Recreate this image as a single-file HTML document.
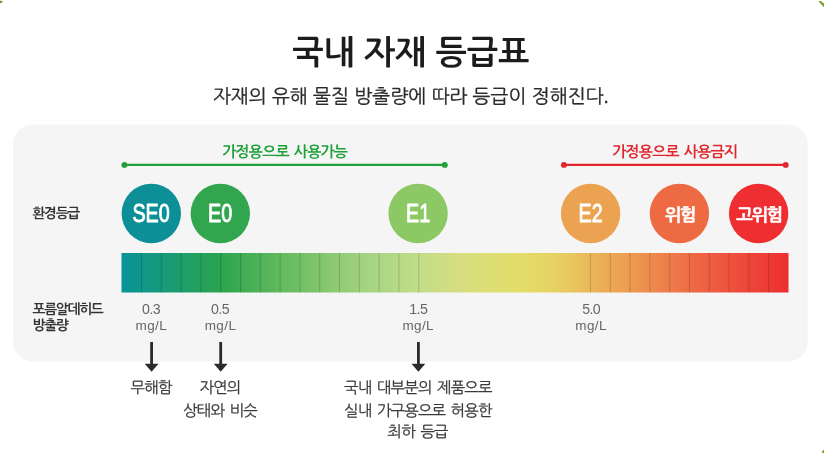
<!DOCTYPE html>
<html lang="ko">
<head>
<meta charset="utf-8">
<title>국내 자재 등급표</title>
<style>
html,body{margin:0;padding:0;background:#fff;}
body{width:824px;height:453px;overflow:hidden;position:relative;}
svg{display:block;position:absolute;left:0;top:0;}
text{font-family:"Liberation Sans","NanumGothic","Noto Sans CJK KR",sans-serif;}
.t{font-weight:700;font-size:33.2px;fill:#1c1c1c;}
.s{font-size:19.1px;fill:#2a2a2a;stroke:#2a2a2a;stroke-width:0.3px;}
.lab{font-size:13.8px;font-weight:700;fill:#333;letter-spacing:-1.3px;}
.g{font-size:15px;font-weight:700;fill:#20a03a;letter-spacing:-0.75px;word-spacing:1.5px;}
.r{font-size:15px;font-weight:700;fill:#e1272d;letter-spacing:-0.75px;word-spacing:1.5px;}
.c{font-size:26.7px;font-weight:400;fill:#fff;stroke:#fff;stroke-width:0.9px;stroke-linejoin:round;}
.k{font-size:17.5px;font-weight:700;fill:#fff;letter-spacing:-1.2px;stroke:#fff;stroke-width:0.45px;}
.m{font-size:14.2px;fill:#666;letter-spacing:-0.6px;}
.u{font-size:13.5px;fill:#666;letter-spacing:0.4px;}
.d{font-size:15.4px;fill:#3a3a3a;letter-spacing:-0.8px;word-spacing:2px;stroke:#3a3a3a;stroke-width:0.25px;}
</style>
</head>
<body>
<svg width="824" height="453" viewBox="0 0 824 453">
<defs>
<linearGradient id="bar" gradientUnits="userSpaceOnUse" x1="121.500" y1="0" x2="788.500" y2="0">
<stop offset="0" stop-color="#089399"/>
<stop offset="0.148" stop-color="#2ba44e"/>
<stop offset="0.245" stop-color="#66bb5e"/>
<stop offset="0.372" stop-color="#a6d482"/>
<stop offset="0.447" stop-color="#c2dd88"/>
<stop offset="0.506" stop-color="#d6de80"/>
<stop offset="0.597" stop-color="#e3dd6a"/>
<stop offset="0.640" stop-color="#e6d465"/>
<stop offset="0.672" stop-color="#e8c860"/>
<stop offset="0.717" stop-color="#ebae56"/>
<stop offset="0.753" stop-color="#eda052"/>
<stop offset="0.867" stop-color="#ee6444"/>
<stop offset="1" stop-color="#ee2e30"/>
</linearGradient>
</defs>
<rect x="0" y="0" width="824" height="453" fill="#fff"/>
<g>
<path d="M0 0.800L2.300 1L2.700 1.800L1 2.900L0 3.200z" fill="#668e3e"/>
<path d="M818.400 0.900L820.800 1L824 3.600L824 7.200L822.300 5.400z" fill="#779d36"/>
<path d="M824 449.400L822.600 450.800L821.700 453L824 453z" fill="#7aa824"/>
</g>
<rect x="13" y="124.600" width="794.700" height="237" rx="19.500" ry="19.500" fill="#f5f5f5"/>

<text class="t" x="410.700" y="64.300" text-anchor="middle">국내 자재 등급표</text>
<text class="s" x="410.800" y="103.400" text-anchor="middle">자재의 유해 물질 방출량에 따라 등급이 정해진다.</text>

<text class="g" x="284.700" y="157.300" text-anchor="middle">가정용으로 사용가능</text>
<line x1="124.400" y1="164.900" x2="444.800" y2="164.900" stroke="#20a03a" stroke-width="2.200"/>
<circle cx="124.400" cy="164.900" r="2.950" fill="#20a03a"/>
<circle cx="444.800" cy="164.900" r="2.950" fill="#20a03a"/>

<text class="r" x="674.700" y="157.300" text-anchor="middle">가정용으로 사용금지</text>
<line x1="563.900" y1="164.900" x2="785.700" y2="164.900" stroke="#e1272d" stroke-width="2.200"/>
<circle cx="563.900" cy="164.900" r="2.950" fill="#e1272d"/>
<circle cx="785.700" cy="164.900" r="2.950" fill="#e1272d"/>

<text class="lab" x="32.300" y="218.300">환경등급</text>

<circle cx="151.300" cy="213.500" r="29.700" fill="#0d8f98"/>
<circle cx="220.300" cy="213.500" r="29.700" fill="#32a64e"/>
<circle cx="418.100" cy="213.500" r="29.700" fill="#8cc863"/>
<circle cx="590.600" cy="213.500" r="29.700" fill="#eba352"/>
<circle cx="679.400" cy="213.500" r="29.700" fill="#ee6a42"/>
<circle cx="758.600" cy="213.500" r="29.700" fill="#ee2e30"/>
<text class="c" transform="translate(151.100 221.900) scale(0.740 1)" text-anchor="middle">SE0</text>
<text class="c" transform="translate(220.100 221.900) scale(0.740 1)" text-anchor="middle">E0</text>
<text class="c" transform="translate(418.100 221.900) scale(0.740 1)" text-anchor="middle">E1</text>
<text class="c" transform="translate(590.600 221.900) scale(0.740 1)" text-anchor="middle">E2</text>
<text class="k" x="680" y="220.500" text-anchor="middle">위험</text>
<text class="k" x="759.200" y="220.500" text-anchor="middle">고위험</text>

<rect x="121.500" y="253" width="667" height="39.500" fill="url(#bar)"/>
<g stroke="#000" stroke-opacity="0.24" stroke-width="0.7">
<path d="M141.500 253v39.500M161.300 253v39.500M181.100 253v39.500M200.900 253v39.500M220.700 253v39.500M240.500 253v39.500M260.300 253v39.500M280.100 253v39.500M299.900 253v39.500M319.700 253v39.500M339.500 253v39.500M359.300 253v39.500M379.100 253v39.500M398.900 253v39.500M418.700 253v39.500"/>
<path d="M590.500 253v39.500M610.300 253v39.500M630.100 253v39.500M649.900 253v39.500M669.700 253v39.500M689.500 253v39.500M709.300 253v39.500M729.100 253v39.500M748.900 253v39.500M768.700 253v39.500"/>
</g>

<text class="lab" x="32.500" y="313.800">포름알데히드</text>
<text class="lab" x="32.500" y="329.900">방출량</text>

<text class="m" x="151" y="313.800" text-anchor="middle">0.3</text>
<text class="u" x="151.300" y="329.800" text-anchor="middle">mg/L</text>
<text class="m" x="220" y="313.800" text-anchor="middle">0.5</text>
<text class="u" x="220.500" y="329.800" text-anchor="middle">mg/L</text>
<text class="m" x="418.300" y="313.800" text-anchor="middle">1.5</text>
<text class="u" x="418.200" y="329.800" text-anchor="middle">mg/L</text>
<text class="m" x="591.200" y="313.800" text-anchor="middle">5.0</text>
<text class="u" x="591.100" y="329.800" text-anchor="middle">mg/L</text>

<g fill="#2a2a2a" stroke="none">
<path d="M150.200 342h2.800v21.700h5.500l-6.900 8l-6.900 -8h5.500z"/>
<path d="M219.300 342h2.800v21.700h5.500l-6.900 8l-6.900 -8h5.500z"/>
<path d="M417.000 342h2.800v21.700h5.500l-6.900 8l-6.900 -8h5.500z"/>
</g>

<text class="d" x="151.100" y="393" text-anchor="middle">무해함</text>
<text class="d" x="220" y="393" text-anchor="middle">자연의</text>
<text class="d" x="220" y="415.500" text-anchor="middle">상태와 비슷</text>
<text class="d" x="417.900" y="393" text-anchor="middle">국내 대부분의 제품으로</text>
<text class="d" x="417.900" y="415.500" text-anchor="middle">실내 가구용으로 허용한</text>
<text class="d" x="417.700" y="437" text-anchor="middle">최하 등급</text>
</svg>
</body>
</html>
